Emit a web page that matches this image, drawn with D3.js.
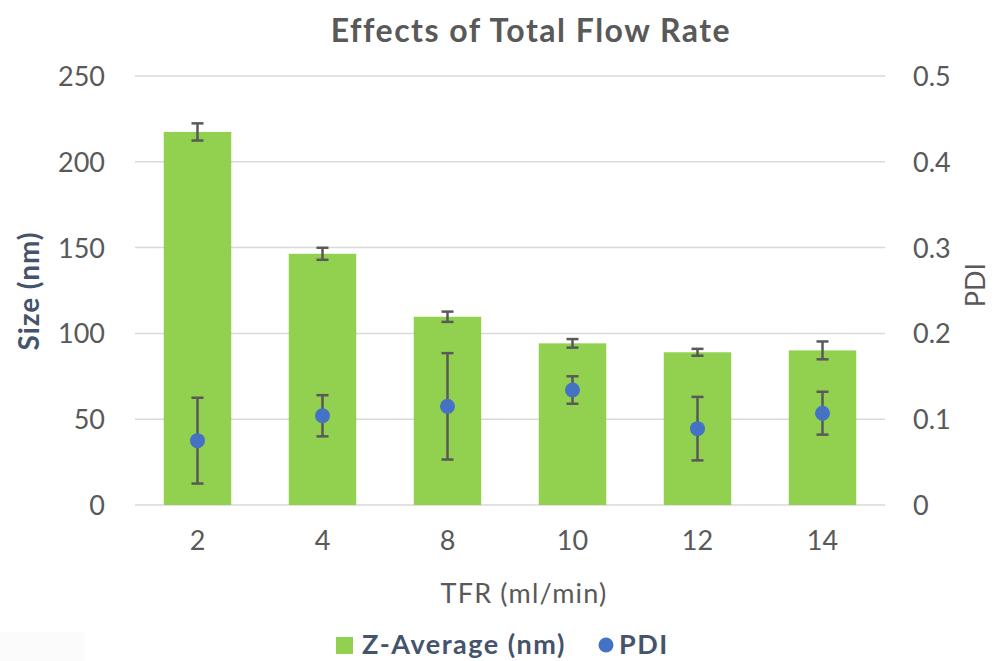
<!DOCTYPE html>
<html>
<head>
<meta charset="utf-8">
<script src="https://cdn.jsdelivr.net/npm/d3@7"></script>
<style>
  html, body { margin: 0; padding: 0; background: #fff; }
  svg { display: block; }
  text { font-family: Lato, "Open Sans", sans-serif; }
</style>
</head>
<body>
<svg id="chart" width="995" height="661"></svg>
<script>
// ---- data ----
const categories = ["2", "4", "8", "10", "12", "14"];
const zAverage   = [217.4, 146.4, 109.7, 94.2, 89.0, 90.1];
const zError     = [5.0, 3.5, 3.0, 2.5, 2.0, 5.2];
const pdi        = [0.075, 0.104, 0.115, 0.134, 0.089, 0.107];
const pdiError   = [0.050, 0.024, 0.062, 0.016, 0.037, 0.025];
const leftTicks  = [0, 50, 100, 150, 200, 250];
const rightTicks = [0, 0.1, 0.2, 0.3, 0.4, 0.5];

const svg = d3.select("#chart");
const plot = { left: 135, right: 885, top: 76, bottom: 505 };

const x = d3.scaleBand().domain(categories).range([plot.left, plot.right]).paddingInner(0.46).paddingOuter(0.23);
const yL = d3.scaleLinear().domain([0, 250]).range([plot.bottom, plot.top]);
const yR = d3.scaleLinear().domain([0, 0.5]).range([plot.bottom, plot.top]);

const tickColor = "#595959";
const gridColor = "#d9d9d9";

// faint artifact rect bottom-left
svg.append("rect").attr("x", 0).attr("y", 632).attr("width", 85).attr("height", 29).attr("fill", "#fbfbfb");

// gridlines
svg.append("g").selectAll("line").data(leftTicks).join("line")
  .attr("x1", plot.left).attr("x2", plot.right)
  .attr("y1", d => yL(d)).attr("y2", d => yL(d))
  .attr("stroke", gridColor).attr("stroke-width", 1.5);

// left axis
const leftAxis = svg.append("g").attr("transform", `translate(${plot.left},0)`)
  .call(d3.axisLeft(yL).tickValues(leftTicks).tickSize(0).tickPadding(30));
leftAxis.select(".domain").remove();
leftAxis.selectAll("text").attr("fill", tickColor).attr("font-size", 27).attr("dy", "0.35em");

// right axis
const rightAxis = svg.append("g").attr("transform", `translate(${plot.right},0)`)
  .call(d3.axisRight(yR).tickValues(rightTicks).tickSize(0).tickPadding(28).tickFormat(d => d === 0 ? "0" : d3.format(".1f")(d)));
rightAxis.select(".domain").remove();
rightAxis.selectAll("text").attr("fill", tickColor).attr("font-size", 27).attr("dy", "0.35em");

// bottom axis
const bottomAxis = svg.append("g").attr("transform", `translate(0,${plot.bottom})`)
  .call(d3.axisBottom(x).tickSize(0).tickPadding(26));
bottomAxis.select(".domain").remove();
bottomAxis.selectAll("text").attr("fill", tickColor).attr("font-size", 27);

// bars
svg.append("g").selectAll("rect").data(zAverage).join("rect")
  .attr("x", (d, i) => x(categories[i]))
  .attr("width", x.bandwidth())
  .attr("y", d => yL(d))
  .attr("height", d => yL(0) - yL(d))
  .attr("fill", "#92D050");

// error bars helper
function errorBars(g, values, errors, scale) {
  const cap = 12;
  values.forEach((v, i) => {
    const cx = x(categories[i]) + x.bandwidth() / 2;
    const top = scale(v + errors[i]), bot = scale(v - errors[i]);
    g.append("line").attr("x1", cx).attr("x2", cx).attr("y1", top).attr("y2", bot);
    g.append("line").attr("x1", cx - cap / 2).attr("x2", cx + cap / 2).attr("y1", top).attr("y2", top);
    g.append("line").attr("x1", cx - cap / 2).attr("x2", cx + cap / 2).attr("y1", bot).attr("y2", bot);
  });
}
const ebZ = svg.append("g").attr("stroke", "#595959").attr("stroke-width", 2.5);
errorBars(ebZ, zAverage, zError, yL);
const ebP = svg.append("g").attr("stroke", "#595959").attr("stroke-width", 2.5);
errorBars(ebP, pdi, pdiError, yR);

// PDI dots
svg.append("g").selectAll("circle").data(pdi).join("circle")
  .attr("cx", (d, i) => x(categories[i]) + x.bandwidth() / 2)
  .attr("cy", d => yR(d))
  .attr("r", 7.5)
  .attr("fill", "#4472C4");

// title
svg.append("text").attr("x", 531).attr("y", 42).attr("text-anchor", "middle")
  .attr("font-size", 32).attr("font-weight", "bold").attr("letter-spacing", 1.5).attr("fill", "#595959")
  .text("Effects of Total Flow Rate");

// axis titles
svg.append("text").attr("x", 524).attr("y", 603).attr("text-anchor", "middle")
  .attr("font-size", 27).attr("letter-spacing", 1.2).attr("fill", tickColor).text("TFR (ml/min)");
svg.append("text").attr("transform", "translate(39,291) rotate(-90)").attr("text-anchor", "middle")
  .attr("font-size", 28).attr("letter-spacing", 0.9).attr("font-weight", "bold").attr("fill", "#44546A").text("Size (nm)");
svg.append("text").attr("transform", "translate(985,285) rotate(-90)").attr("text-anchor", "middle")
  .attr("font-size", 27).attr("fill", tickColor).text("PDI");

// legend
const lg = svg.append("g");
lg.append("rect").attr("x", 336).attr("y", 637).attr("width", 17).attr("height", 17).attr("fill", "#92D050");
lg.append("text").attr("x", 362).attr("y", 654).attr("font-size", 27).attr("letter-spacing", 1.5).attr("font-weight", "bold")
  .attr("fill", "#44546A").text("Z-Average (nm)");
lg.append("circle").attr("cx", 606).attr("cy", 645).attr("r", 7.5).attr("fill", "#4472C4");
lg.append("text").attr("x", 619).attr("y", 654).attr("font-size", 27).attr("letter-spacing", 1.5).attr("font-weight", "bold")
  .attr("fill", "#44546A").text("PDI");
</script>
</body>
</html>
